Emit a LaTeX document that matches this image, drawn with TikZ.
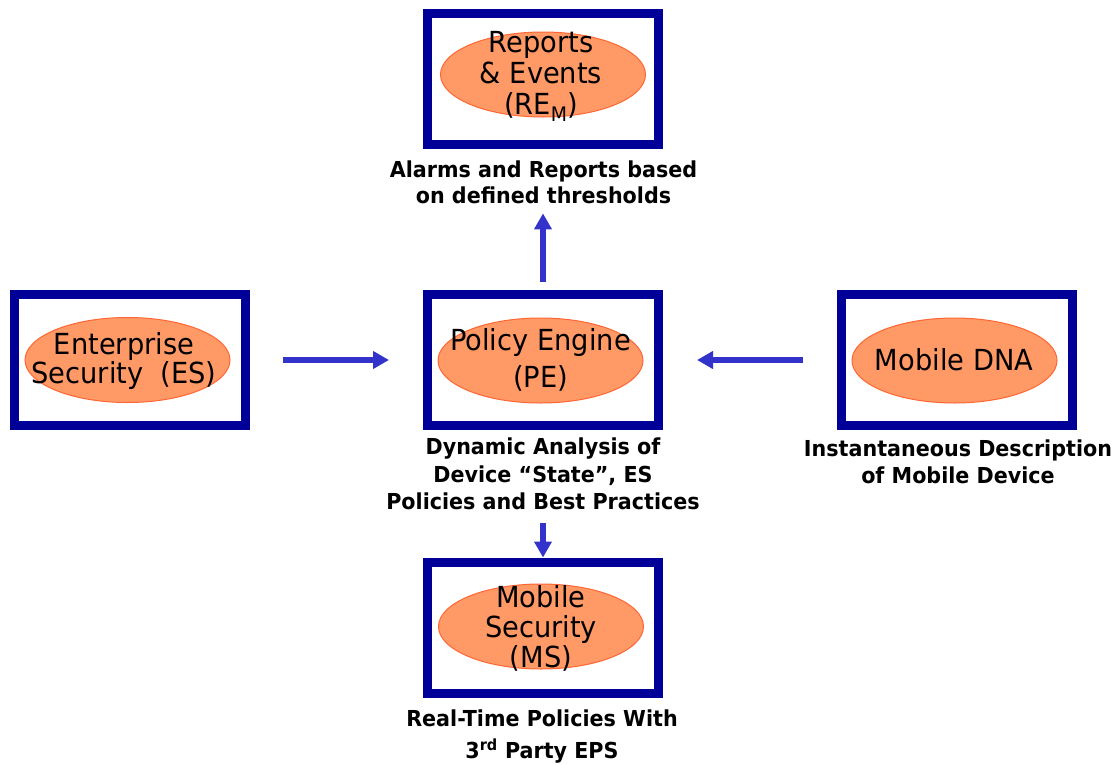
\documentclass[tikz,border=0pt]{standalone}
\usepackage{fontspec}
\setmainfont{DejaVu Sans}[FakeStretch=0.94]
\usetikzlibrary{arrows.meta,shapes.geometric}
\definecolor{boxblue}{HTML}{000099}
\definecolor{ellfill}{HTML}{FF9966}
\definecolor{elldraw}{HTML}{FF6633}
\definecolor{arrblue}{HTML}{3333CC}
\begin{document}
\begin{tikzpicture}[x=1pt,y=-1pt,
  framebox/.style={draw=boxblue, line width=9pt, minimum width=231pt, minimum height=131pt, inner sep=0pt},
  ell/.style={ellipse, draw=elldraw, fill=ellfill, line width=1pt, minimum width=205pt, minimum height=85pt, inner sep=0pt},
  etext/.style={align=center, inner sep=0pt, text=black},
  lab/.style={align=center, inner sep=0pt, text=black},
  arr/.style={draw=arrblue, line width=5.5pt, -{Triangle[length=16pt,width=17pt]}}
]
\useasboundingbox (0,0) rectangle (1120,764);

% boxes
\node[framebox] (rem) at (543,78.5) {};
\node[framebox] (es) at (130,360) {};
\node[framebox] (pe) at (543,360) {};
\node[framebox] (mdna) at (957,360) {};
\node[framebox] (ms) at (543,627.5) {};

% ellipses
\node[ell] (remE) at (543,74.5) {};
\node[ell] (esE) at (127.5,360) {};
\node[ell] (peE) at (540.5,360.5) {};
\node[ell] (mdnaE) at (954.5,360.5) {};
\node[ell] (msE) at (541,626.5) {};

% ellipse texts
\node[etext, font=\fontsize{29}{31}\selectfont] (remT) at (541,76.5)
  {Reports\\\& Events\\(RE\raisebox{-7pt}{\fontsize{20}{20}\selectfont M})};
\node[etext, font=\fontsize{29}{29}\selectfont] (esT) at (124,361)
  {Enterprise\\Security~~(ES)};
\node[etext, font=\fontsize{29}{37}\selectfont] (peT) at (540.5,359.4)
  {Policy Engine\\(PE)};
\node[etext, font=\fontsize{29}{31}\selectfont] (mdnaT) at (954,360)
  {Mobile DNA};
\node[etext, font=\fontsize{29}{30}\selectfont] (msT) at (541,628)
  {Mobile\\Security\\(MS)};

% labels
\node[lab, font=\bfseries\fontsize{22}{26}\selectfont] (remlab) at (543.5,182.7)
  {Alarms and Reports based\\on defined thresholds};
\node[lab, font=\bfseries\fontsize{22}{27.5}\selectfont] (pelab) at (543,474.2)
  {Dynamic Analysis of\\Device “State”, ES\\Policies and Best Practices};
\node[lab, font=\bfseries\fontsize{22}{27}\selectfont] (mdnalab) at (958,462.2)
  {Instantaneous Description\\of Mobile Device};
\node[lab, font=\bfseries\fontsize{22}{32}\selectfont] (mslab) at (542,736.3)
  {Real-Time Policies With\\3\textsuperscript{rd} Party EPS};

% connectors
\draw[arr, shorten <=33pt, shorten >=34pt] (es.east) -- (pe.west);
\draw[arr, shorten <=34pt, shorten >=34pt] (mdna.west) -- (pe.east);
\draw[arr, shorten <=8pt, shorten >=9pt] (pe.north) -- (pe.north |- remlab.south);
\draw[arr, shorten <=13pt] (pelab.south) -- (pelab.south |- ms.north);
\end{tikzpicture}
\end{document}
